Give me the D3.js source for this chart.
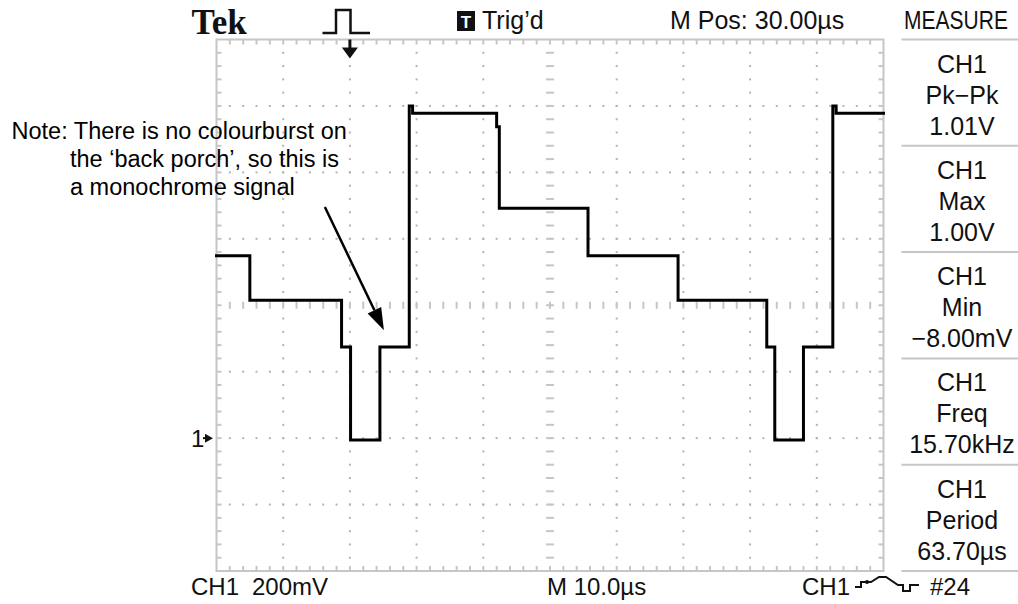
<!DOCTYPE html>
<html><head><meta charset="utf-8">
<script src="https://cdn.jsdelivr.net/npm/d3@7"></script>
<style>html,body{margin:0;padding:0;background:#fff;} svg{display:block;}</style>
</head><body>
<svg id="chart" width="1018" height="604"></svg>
<script>
// ---------------- data ----------------
const timeRange = [-20, 80];      // µs across screen (10 µs/div, M Pos 30 µs)
const voltRange = [-0.4, 1.2];    // V (200 mV/div, ground marker at 0 V)
const timeDivStep = 10;
const voltDivStep = 0.2;
const triggerTime = 0;
const groundVolt = 0;

// staircase test line: time of each level change (µs) and level (V)
const edgeTimes  = [-20, -15.0, -1.25, 0.1, 4.5, 8.9, 9.4, 22.0, 22.4, 35.7, 49.2, 62.5, 63.7, 68.0, 72.4, 72.9, 80];
const levelVolts = [0.549, 0.415, 0.274, -0.006, 0.274, 1.0, 0.978, 0.937, 0.692, 0.549, 0.415, 0.274, -0.006, 0.274, 1.0, 0.978, 0.978];

const measureChannel = "CH1";
const measureNames  = ["Pk−Pk", "Max", "Min", "Freq", "Period"];
const measureValues = ["1.01V", "1.00V", "−8.00mV", "15.70kHz", "63.70µs"];

const brandLabel = "Tek";
const trigLabel = "Trig’d";
const posLabel = "M Pos: 30.00µs";
const menuLabel = "MEASURE";
const footerLabels = ["CH1", "200mV", "M 10.0µs", "CH1", "#24"];
const groundLabel = "1";

const noteLines = ["Note: There is no colourburst on", "the ‘back porch’, so this is", "a monochrome signal"];
const noteArrowFrom = [-3.75, 0.696];  // [µs, V]
const noteArrowTo   = [5.1, 0.325];

// ---------------- layout ----------------
const X0 = 216.5, X1 = 883.5, Y0 = 39.5, Y1 = 571;
const svg = d3.select("#chart");
const x = d3.scaleLinear().domain(timeRange).range([X0, X1]);
const y = d3.scaleLinear().domain(voltRange).range([Y1, Y0]);
const FONT = "'Liberation Sans', Arial, Helvetica, sans-serif";
const gridCol = "#c6c6c6", dotCol = "#b4b4b4", ink = "#111";

const eps = 1e-9;
const majT = d3.range(timeRange[0], timeRange[1] + eps, timeDivStep);
const majV = d3.range(voltRange[0], voltRange[1] + eps, voltDivStep);
const minT = d3.range(timeRange[0], timeRange[1] + eps, timeDivStep / 5);
const minV = d3.range(voltRange[0], voltRange[1] + eps, voltDivStep / 5);
const tC = (timeRange[0] + timeRange[1]) / 2, vC = (voltRange[0] + voltRange[1]) / 2;
const near = (a, b) => Math.abs(a - b) < 1e-6;

const g = svg.append("g");
const dots = [];
majT.slice(1, -1).filter(t => !near(t, tC)).forEach(t =>
  minV.slice(1, -1).forEach(v => dots.push([x(t), y(v)])));
majV.slice(1, -1).filter(v => !near(v, vC)).forEach(v =>
  minT.slice(1, -1).forEach(t => dots.push([x(t), y(v)])));
g.selectAll("rect.dot").data(dots).join("rect").attr("class", "dot")
  .attr("x", d => d[0] - 1).attr("y", d => d[1] - 1).attr("width", 2).attr("height", 2)
  .attr("fill", dotCol);
g.selectAll("line.cv").data(minV.slice(1, -1)).join("line").attr("class", "cv")
  .attr("x1", x(tC) - 4).attr("x2", x(tC) + 4).attr("y1", d => y(d)).attr("y2", d => y(d))
  .attr("stroke", gridCol).attr("stroke-width", 2);
g.selectAll("line.ch").data(minT.slice(1, -1)).join("line").attr("class", "ch")
  .attr("y1", y(vC) - 3.5).attr("y2", y(vC) + 3.5).attr("x1", d => x(d)).attr("x2", d => x(d))
  .attr("stroke", gridCol).attr("stroke-width", 2);
const tk = 5;
g.selectAll("line.tt").data(minT.slice(1, -1)).join("line").attr("class", "tt")
  .attr("x1", d => x(d)).attr("x2", d => x(d)).attr("y1", Y0).attr("y2", Y0 + tk)
  .attr("stroke", gridCol).attr("stroke-width", 2);
g.selectAll("line.tb").data(minT.slice(1, -1)).join("line").attr("class", "tb")
  .attr("x1", d => x(d)).attr("x2", d => x(d)).attr("y1", Y1 - tk).attr("y2", Y1)
  .attr("stroke", gridCol).attr("stroke-width", 2);
g.selectAll("line.tl").data(minV.slice(1, -1)).join("line").attr("class", "tl")
  .attr("y1", d => y(d)).attr("y2", d => y(d)).attr("x1", X0).attr("x2", X0 + tk)
  .attr("stroke", gridCol).attr("stroke-width", 2);
g.selectAll("line.tr").data(minV.slice(1, -1)).join("line").attr("class", "tr")
  .attr("y1", d => y(d)).attr("y2", d => y(d)).attr("x1", X1 - tk).attr("x2", X1)
  .attr("stroke", gridCol).attr("stroke-width", 2);
g.append("rect").attr("x", X0).attr("y", Y0).attr("width", X1 - X0).attr("height", Y1 - Y0)
  .attr("fill", "none").attr("stroke", gridCol).attr("stroke-width", 2);

// trace
const pts = edgeTimes.map((t, i) => [t, levelVolts[i]]);
svg.append("path").datum(pts)
  .attr("d", d3.line().x(d => x(d[0])).y(d => y(d[1])).curve(d3.curveStepAfter))
  .attr("fill", "none").attr("stroke", "#000").attr("stroke-width", 3)
  .attr("stroke-linejoin", "miter").attr("stroke-linecap", "square");

// ---- header ----
svg.append("text").text(brandLabel).attr("x", 191.5).attr("y", 34)
  .attr("font-family", "'Liberation Serif', 'Times New Roman', serif").attr("font-weight", "bold")
  .attr("font-size", 35).attr("fill", ink);
svg.append("path").attr("d", "M322.5,33 H336 V10 H350.5 V33 H370")
  .attr("fill", "none").attr("stroke", ink).attr("stroke-width", 2.5);
const tx = x(triggerTime);
svg.append("line").attr("x1", tx).attr("x2", tx).attr("y1", Y0).attr("y2", Y0 + 9)
  .attr("stroke", ink).attr("stroke-width", 3);
svg.append("path").attr("d", `M${tx - 8},${Y0 + 8} L${tx + 8},${Y0 + 8} L${tx},${Y0 + 19} Z`).attr("fill", ink);
svg.append("rect").attr("x", 457).attr("y", 11).attr("width", 18).attr("height", 20).attr("fill", ink);
svg.append("text").text("T").attr("x", 466).attr("y", 27.5).attr("text-anchor", "middle")
  .attr("font-family", FONT).attr("font-weight", "bold").attr("font-size", 17).attr("fill", "#fff");
svg.append("text").text(trigLabel).attr("x", 482).attr("y", 29)
  .attr("font-family", FONT).attr("font-size", 25).attr("fill", ink);
svg.append("text").text(posLabel).attr("x", 670).attr("y", 29)
  .attr("font-family", FONT).attr("font-size", 25).attr("fill", ink);
svg.append("text").text(menuLabel)
  .attr("transform", "translate(956,29) scale(0.84,1)").attr("text-anchor", "middle")
  .attr("font-family", FONT).attr("font-size", 25).attr("fill", ink);

// ---- measurement panel ----
const secH = (Y1 - Y0) / measureNames.length;
const panel = svg.append("g");
d3.range(measureNames.length + 1).forEach(k => {
  panel.append("line").attr("x1", 901.5).attr("x2", 1018).attr("y1", Y0 + k * secH).attr("y2", Y0 + k * secH)
    .attr("stroke", gridCol).attr("stroke-width", 2);
});
measureNames.forEach((nm, k) => {
  const s = Y0 + k * secH;
  [measureChannel, nm, measureValues[k]].forEach((txt, j) => {
    panel.append("text").text(txt).attr("x", 962).attr("y", s + 33 + j * 31)
      .attr("text-anchor", "middle").attr("font-family", FONT).attr("font-size", 25).attr("fill", ink);
  });
});

// ---- footer ----
const footX = [191, 252, 547, 802, 930];
footerLabels.forEach((t, i) => {
  svg.append("text").text(t).attr("x", footX[i]).attr("y", 595)
    .attr("font-family", FONT).attr("font-size", 24).attr("fill", ink);
});
svg.append("path").attr("d", "M855,587 H861 V582 H871 L879,577 H886 L898,585 H903 V591 H910 V585 H919")
  .attr("fill", "none").attr("stroke", ink).attr("stroke-width", 2);
svg.append("circle").attr("cx", 867).attr("cy", 582).attr("r", 2).attr("fill", ink);

// ground marker
const gy = y(groundVolt);
svg.append("text").text(groundLabel).attr("x", 191).attr("y", gy + 9)
  .attr("font-family", FONT).attr("font-size", 24).attr("fill", ink);
svg.append("path").attr("d", `M205,${gy - 4.5} L213,${gy} L205,${gy + 4.5} Z`).attr("fill", ink);
svg.append("line").attr("x1", 203).attr("x2", 207).attr("y1", gy).attr("y2", gy).attr("stroke", ink).attr("stroke-width", 2);

// ---- annotation ----
const noteX = [11.5, 70, 70], noteY = [139, 167, 195];
noteLines.forEach((t, i) => {
  svg.append("text").text(t).attr("x", noteX[i]).attr("y", noteY[i])
    .attr("font-family", FONT).attr("font-size", 23.5).attr("fill", "#000");
});
const ax0 = x(noteArrowFrom[0]), ay0 = y(noteArrowFrom[1]);
const ax1 = x(noteArrowTo[0]), ay1 = y(noteArrowTo[1]);
const ang = Math.atan2(ay1 - ay0, ax1 - ax0);
const hl = 22, hw = 7.5;
const bx = ax1 - hl * Math.cos(ang), by = ay1 - hl * Math.sin(ang);
svg.append("line").attr("x1", ax0).attr("y1", ay0).attr("x2", bx).attr("y2", by)
  .attr("stroke", "#000").attr("stroke-width", 2.5);
svg.append("path").attr("d",
  `M${ax1},${ay1} L${bx + hw * Math.sin(ang)},${by - hw * Math.cos(ang)} L${bx - hw * Math.sin(ang)},${by + hw * Math.cos(ang)} Z`)
  .attr("fill", "#000");
</script>
</body></html>
